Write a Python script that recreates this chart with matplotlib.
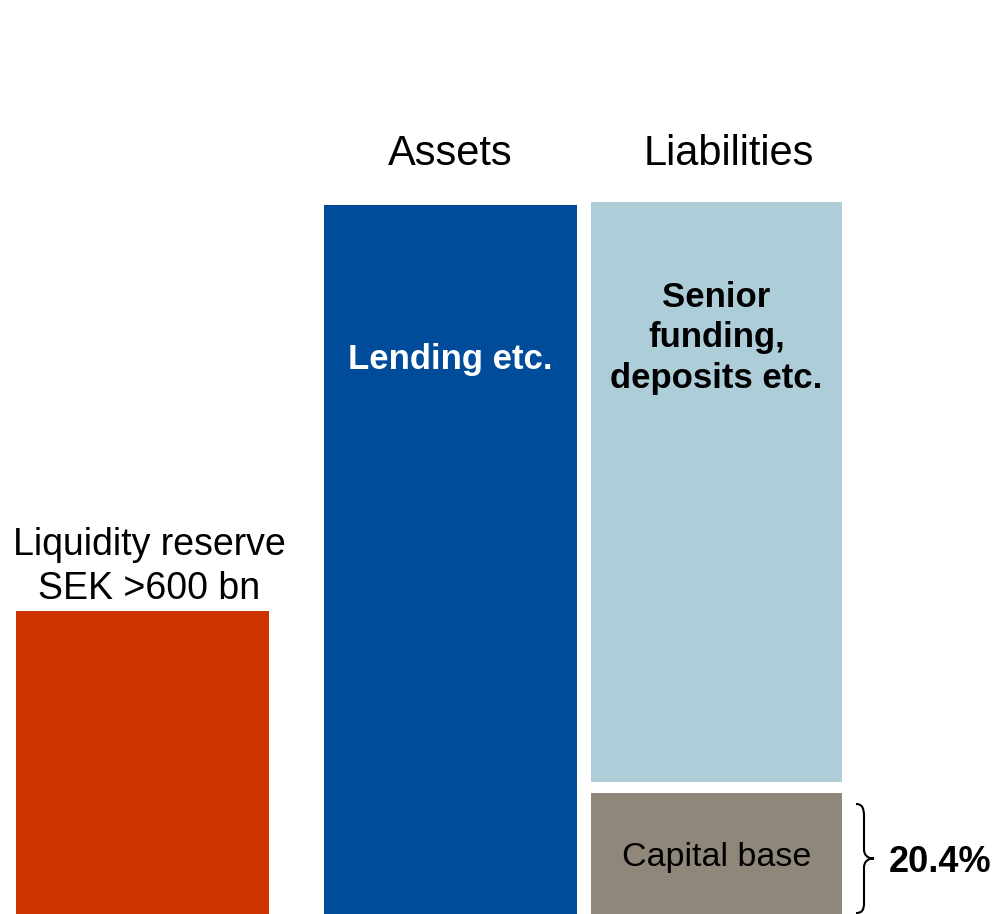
import matplotlib
matplotlib.use("Agg")
import matplotlib.pyplot as plt
from matplotlib.path import Path
from matplotlib.patches import PathPatch

plt.rcParams["font.family"] = ["Liberation Sans", "DejaVu Sans"]

# balance sheet blocks (heights in chart units, bottom of canvas = 0)
liquidity_reserve = 303
lending = 709
senior_funding = 580
capital_base = 121
capital_gap = 11
capital_ratio = "20.4%"

column_titles = ["Assets", "Liabilities"]
liquidity_label = "Liquidity reserve\nSEK >600 bn"
lending_label = "Lending etc."
senior_label = "Senior\nfunding,\ndeposits etc."
capital_label = "Capital base"

RED = "#CC3300"
BLUE = "#004C9A"
LIGHT_BLUE = "#ADCDD9"
GREY = "#8F877A"

W, H = 998, 914
fig = plt.figure(figsize=(W / 100, H / 100), dpi=100)
ax = fig.add_axes([0, 0, 1, 1])
ax.set_xlim(0, W)
ax.set_ylim(0, H)
ax.axis("off")

bar_w = 253
x_liq, x_assets, x_liab = 16, 324, 591
liab_w = 251

ax.bar(x_liq, liquidity_reserve, width=bar_w, align="edge", color=RED)
ax.bar(x_assets, lending, width=bar_w, align="edge", color=BLUE)
ax.bar(x_liab, capital_base, width=liab_w, align="edge", color=GREY)
ax.bar(x_liab, senior_funding, bottom=capital_base + capital_gap,
       width=liab_w, align="edge", color=LIGHT_BLUE)

cx_assets = x_assets + bar_w / 2
cx_liab = x_liab + liab_w / 2

ax.text(cx_assets, 749, column_titles[0], ha="center", va="baseline", fontsize=30)
ax.text(cx_liab + 12, 749, column_titles[1], ha="center", va="baseline", fontsize=30)

ax.text(149, liquidity_reserve + 44, liquidity_label, ha="center", va="center",
        fontsize=27, linespacing=1.27)
ax.text(cx_assets, H - 360, lending_label, ha="center", va="center",
        fontsize=25, fontweight="bold", color="white")
ax.text(cx_liab, H - 338, senior_label, ha="center", va="center",
        fontsize=25, fontweight="bold", linespacing=1.3)
ax.text(cx_liab, capital_base / 2 - 4, capital_label, ha="center", va="center",
        fontsize=24.5)

# curly brace next to the capital base
top, bot = capital_base - 11, 1
mid = (top + bot) / 2
verts = [
    (856, top), (862, top), (864, top - 4), (864, top - 12),
    (864, mid + 9),
    (864, mid + 4), (867, mid), (874, mid),
    (867, mid), (864, mid - 4), (864, mid - 9),
    (864, bot + 10),
    (864, bot + 3), (862, bot), (856, bot),
]
codes = [Path.MOVETO, Path.CURVE4, Path.CURVE4, Path.CURVE4, Path.LINETO,
         Path.CURVE4, Path.CURVE4, Path.CURVE4,
         Path.CURVE4, Path.CURVE4, Path.CURVE4, Path.LINETO,
         Path.CURVE4, Path.CURVE4, Path.CURVE4]
ax.add_patch(PathPatch(Path(verts, codes), fill=False, lw=1.5, color="black"))

ax.text(889, mid - 4, capital_ratio, ha="left", va="center",
        fontsize=26, fontweight="bold")

fig.savefig("out.png", dpi=100)
